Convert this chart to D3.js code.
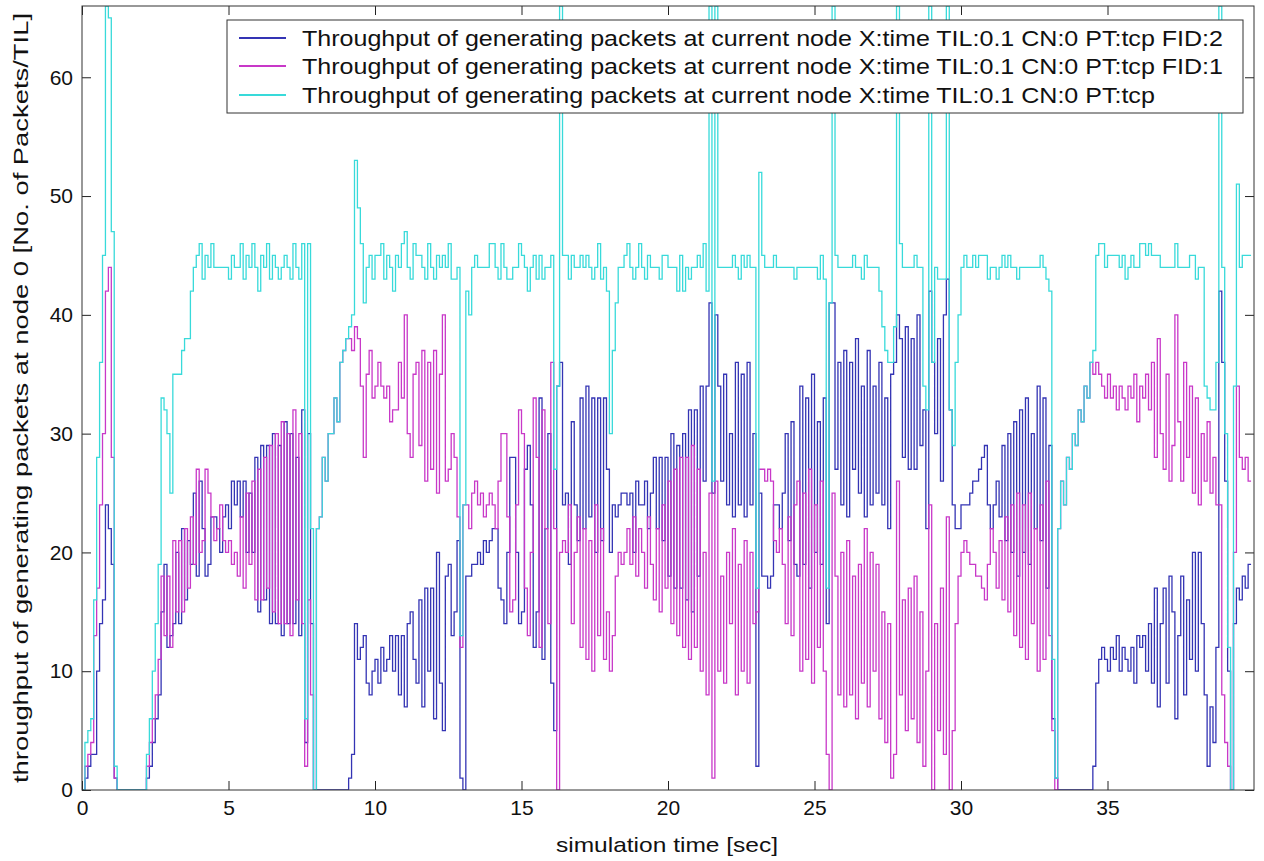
<!DOCTYPE html>
<html><head><meta charset="utf-8">
<script src="https://cdn.jsdelivr.net/npm/d3@7"></script>
<style>
body{margin:0;background:#fff;}
svg{display:block;}
text{font-family:"Liberation Sans",Arial,sans-serif;fill:#111;}
</style>
</head><body>
<svg id="chart" width="1264" height="861"></svg>
<script>
// ---- data (sampled every TIL = 0.1 s) ----
const sampleInterval = 0.1;
const blue = [
0,1,2,3,3,10,14,16,24,22,19,1,0,
0,0,0,0,0,0,0,0,0,
1,2,4,6,8,
15,19,12,13,14,20,14,22,16,21,19,25,18,26,
22,18,19,23,23,22,20,23,24,22,26,24,26,23,26,20,25,20,28,15,29,16,29,14,30,14,29,13,31,14,30,14,28,13,32,
4,30,14,0,
0,0,0,0,0,0,0,0,0,0,0,
1,3,
14,11,12,13,9,8,10,11,9,12,10,11,13,10,13,8,13,7,14,15,11,9,16,7,17,10,17,6,20,9,5,18,19,13,15,21,
1,0,18,18,
19,19,20,19,21,20,21,22,22,17,16,
14,20,28,28,20,14,15,27,29,24,12,15,33,11,22,30,9,5,34,36,24,
25,19,31,24,21,33,22,34,23,33,20,33,21,33,27,20,24,23,24,
25,25,24,25,20,26,24,24,26,22,25,28,22,28,21,28,18,30,17,29,17,30,16,32,15,32,18,34,26,34,
41,25,40,34,26,35,24,30,23,36,24,35,23,36,24,30,
2,25,18,18,17,18,24,24,22,25,30,21,31,19,
18,34,19,33,17,35,20,31,19,33,14,41,41,
27,36,24,37,23,36,27,38,25,34,23,37,24,34,25,36,24,33,22,35,36,
40,38,28,39,27,38,27,40,29,32,22,42,36,30,38,26,40,43,32,24,22,22,
24,24,24,25,26,26,27,28,29,24,22,24,26,23,29,21,30,20,31,18,32,20,33,19,30,22,34,21,33,17,29,
6,1,0,0,0,0,0,0,0,0,0,0,0,0,2,
9,11,12,11,10,12,11,13,10,12,11,10,12,9,13,12,13,10,14,9,17,7,14,17,9,18,15,6,13,18,8,16,11,20,10,20,14,
8,2,7,4,12,42,36,26,10,0,14,17,16,18,17,19,19
];
const magenta = [
0,2,3,4,13,17,24,30,42,44,28,1,0,
0,0,0,0,0,0,0,0,0,
2,4,6,8,11,
18,13,18,12,21,15,21,15,22,17,23,19,27,20,
21,27,25,23,21,22,24,21,20,21,19,20,18,23,17,25,19,26,16,27,16,28,17,29,15,30,14,31,14,30,13,32,16,30,14,
2,16,8,0,
22,23,28,26,30,30,33,31,36,37,38,
38,37,
39,38,34,28,35,37,33,34,36,34,33,34,31,32,32,36,33,40,30,28,35,36,29,37,26,36,27,37,25,35,40,26,27,30,28,23,
12,24,24,22,
25,26,24,25,23,24,25,24,22,26,30,
30,23,15,16,24,32,30,17,13,20,33,28,12,32,22,14,36,22,0,20,21,
20,24,14,20,23,12,22,11,21,10,24,13,22,11,15,10,13,18,20,
19,20,22,19,23,18,22,20,17,23,19,16,22,15,24,17,26,14,27,13,28,12,28,11,29,12,27,10,20,8,
25,1,26,10,18,9,20,14,22,8,19,10,21,9,20,14,
15,27,27,26,27,26,21,20,22,19,14,23,13,24,
26,10,25,11,27,9,24,12,26,10,3,0,25,
18,8,20,7,21,8,18,6,19,9,22,7,20,10,19,6,15,4,14,1,3,
26,8,16,5,17,6,18,4,15,2,10,24,0,14,5,17,3,23,0,5,14,18,
20,21,20,19,19,18,18,17,16,19,22,20,17,21,16,23,15,24,13,25,12,24,11,25,14,22,10,24,11,26,13,
5,0,22,26,24,28,27,30,29,32,31,34,33,36,35,
36,35,34,33,35,33,34,32,34,33,32,34,33,35,31,34,33,35,32,36,28,38,30,27,35,26,29,40,31,26,36,28,34,25,33,24,30,
26,31,25,28,24,24,8,4,2,0,20,34,28,27,28,26,26
];
const cyan = [
0,4,5,6,16,28,36,45,66,65,47,2,0,
0,0,0,0,0,0,0,0,0,
3,6,10,14,19,
33,32,30,25,35,35,35,37,38,38,42,44,45,46,
43,45,44,46,44,44,44,44,44,43,45,44,44,46,43,45,44,46,44,42,45,44,46,43,45,44,43,44,45,44,43,46,44,43,46,
6,46,22,0,
22,23,28,26,30,30,33,31,36,37,38,
39,40,
53,49,46,41,44,45,43,45,45,46,43,45,44,42,45,44,46,47,44,43,46,45,45,44,43,46,44,43,45,44,45,44,46,43,43,44,
13,24,42,40,
44,45,44,44,44,44,46,46,44,43,46,
44,43,43,44,44,46,45,44,42,44,45,43,45,43,44,44,45,27,34,66,45,
45,43,45,44,44,45,44,45,44,43,44,46,43,44,42,30,37,41,44,
44,45,46,44,43,44,46,44,43,45,44,44,44,43,45,45,44,44,44,42,45,42,44,43,44,44,45,44,46,42,
66,26,66,44,44,44,44,44,45,44,43,45,44,45,44,44,
17,52,45,44,44,44,45,44,44,44,44,44,44,43,
44,44,44,44,44,44,44,43,45,43,17,41,66,
45,44,44,44,44,44,45,44,44,43,45,44,44,44,44,42,39,37,36,36,39,
66,46,44,44,44,44,45,44,44,34,32,66,36,44,43,43,43,66,32,29,36,40,
44,45,44,44,45,44,45,45,45,43,44,44,43,44,45,44,45,44,44,43,44,44,44,44,44,44,44,45,44,43,42,
11,1,22,26,24,28,27,30,29,32,31,34,33,36,37,
45,46,46,44,45,45,45,45,44,45,43,44,45,44,44,46,46,45,46,45,45,45,44,44,44,44,44,46,44,44,44,44,45,45,43,44,44,
34,33,32,32,36,66,44,30,12,0,34,51,44,45,45,45,45
];
const xTicks = [0,5,10,15,20,25,30,35];
const yTicks = [0,10,20,30,40,50,60];
const legendLabels = [
  "Throughput of generating packets at current node X:time TIL:0.1 CN:0 PT:tcp FID:2",
  "Throughput of generating packets at current node X:time TIL:0.1 CN:0 PT:tcp FID:1",
  "Throughput of generating packets at current node X:time TIL:0.1 CN:0 PT:tcp"
];
const xLabel = "simulation time [sec]";
const yLabel = "throughput of generating packets at node 0 [No. of Packets/TIL]";

if (blue.length !== 400 || magenta.length !== 400 || cyan.length !== 400) {
  throw new Error("lengths " + blue.length + " " + magenta.length + " " + cyan.length);
}

// ---- layout ----
const L = 82, R = 1254, T = 6, B = 790;
const svg = d3.select("#chart");
const x = d3.scaleLinear().domain([0, 40]).range([L, R]);
const y = d3.scaleLinear().domain([0, 66]).range([B, T]);

const series = [
  {values: blue, color: "#3434b4", label: legendLabels[0]},
  {values: magenta, color: "#c838c8", label: legendLabels[1]},
  {values: cyan, color: "#38dada", label: legendLabels[2]}
];

svg.append("defs").append("clipPath").attr("id", "clip")
  .append("rect").attr("x", L).attr("y", T).attr("width", R - L).attr("height", B - T);

const line = d3.line()
  .x((d, i) => x(i * sampleInterval))
  .y(d => y(d))
  .curve(d3.curveStepAfter);

const plot = svg.append("g").attr("clip-path", "url(#clip)");
series.forEach(s => {
  plot.append("path").datum(s.values)
    .attr("d", line)
    .attr("fill", "none")
    .attr("stroke", s.color)
    .attr("stroke-width", 1.3);
});

// ---- axes (MATLAB style: inward ticks on all sides) ----
const tickFont = 21;
const axB = svg.append("g").attr("transform", `translate(0,${B})`)
  .call(d3.axisBottom(x).tickValues(xTicks).tickSizeInner(-9).tickSizeOuter(0).tickPadding(10).tickFormat(d3.format("d")));
const axT = svg.append("g").attr("transform", `translate(0,${T})`)
  .call(d3.axisTop(x).tickValues(xTicks).tickSizeInner(-9).tickSizeOuter(0).tickFormat(""));
const axL = svg.append("g").attr("transform", `translate(${L},0)`)
  .call(d3.axisLeft(y).tickValues(yTicks).tickSizeInner(-9).tickSizeOuter(0).tickPadding(9).tickFormat(d3.format("d")));
const axR = svg.append("g").attr("transform", `translate(${R},0)`)
  .call(d3.axisRight(y).tickValues(yTicks).tickSizeInner(-9).tickSizeOuter(0).tickFormat(""));
[axB, axT, axL, axR].forEach(g => {
  g.select(".domain").remove();
  g.selectAll(".tick line").attr("stroke", "#222").attr("stroke-width", 1);
  g.selectAll("text").attr("font-size", tickFont).attr("fill", "#111")
    .style("font-family", '"Liberation Sans", Arial, sans-serif');
});
svg.append("rect").attr("x", L).attr("y", T).attr("width", R - L).attr("height", B - T)
  .attr("fill", "none").attr("stroke", "#333").attr("stroke-width", 1);

// ---- axis labels ----
svg.append("text").attr("x", 667).attr("y", 852).attr("text-anchor", "middle")
  .attr("font-size", 21).attr("textLength", 222).attr("lengthAdjust", "spacingAndGlyphs")
  .text(xLabel);
svg.append("text").attr("transform", "translate(28,398) rotate(-90)").attr("text-anchor", "middle")
  .attr("font-size", 20).attr("textLength", 770).attr("lengthAdjust", "spacingAndGlyphs")
  .text(yLabel);

// ---- legend ----
const lg = svg.append("g");
lg.append("rect").attr("x", 227).attr("y", 20).attr("width", 1016).attr("height", 93)
  .attr("fill", "#fff").attr("stroke", "#333").attr("stroke-width", 1);
const rows = [38, 66, 95];
const texts = [];
series.forEach((s, i) => {
  lg.append("line").attr("x1", 239).attr("x2", 286).attr("y1", rows[i]).attr("y2", rows[i])
    .attr("stroke", s.color).attr("stroke-width", 2);
  texts.push(lg.append("text").attr("x", 302).attr("y", rows[i] + 8).attr("font-size", 22).text(s.label));
});
const nat0 = texts[0].node().getComputedTextLength();
const k = 921 / nat0;
texts.forEach(t => {
  const n = t.node().getComputedTextLength();
  t.attr("textLength", n * k).attr("lengthAdjust", "spacingAndGlyphs");
});
</script>
</body></html>
